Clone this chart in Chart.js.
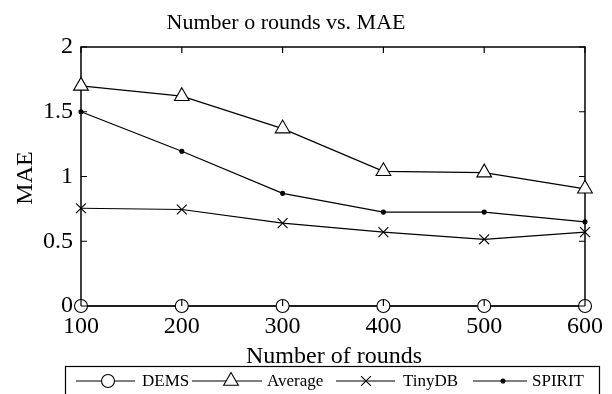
<!DOCTYPE html>
<html>
<head>
<meta charset="utf-8">
<script src="https://cdn.jsdelivr.net/npm/chart.js@4/dist/chart.umd.min.js"></script>
<style>
html,body{margin:0;padding:0;background:#fff;}
#wrap{width:612px;height:394px;position:relative;}
</style>
</head>
<body>
<div id="wrap"><canvas id="c" width="612" height="394"></canvas></div>
<script>
const rounds = ['100','200','300','400','500','600'];
const dems = [0, 0, 0, 0, 0, 0];
const average = [1.70, 1.62, 1.37, 1.04, 1.03, 0.905];
const tinydb = [0.755, 0.745, 0.64, 0.57, 0.515, 0.57];
const spirit = [1.50, 1.195, 0.87, 0.725, 0.725, 0.65];
const seriesNames = ['DEMS', 'Average', 'TinyDB', 'SPIRIT'];
const titleText = 'Number o rounds vs. MAE';
const xTitle = 'Number of rounds';
const yTitle = 'MAE';

const FONT = "'Liberation Serif', 'Times New Roman', serif";

const markers = [
  {style:'circle', r:6.5, fill:'#ffffff'},
  {style:'triangle', r:8.5, fill:'#ffffff'},
  {style:'crossRot', r:7, fill:'#ffffff'},
  {style:'circle', r:2, fill:'#000000'}
];

function ds(label, data, m) {
  return {
    label, data,
    borderColor:'#000', borderWidth:1.2, tension:0,
    pointStyle:m.style, pointRadius:m.r, pointHoverRadius:m.r,
    pointBackgroundColor:m.fill, pointBorderColor:'#000', pointBorderWidth:1.1,
    clip:false
  };
}

function drawMarker(ctx, m, x, y) {
  ctx.save();
  ctx.strokeStyle = '#000'; ctx.fillStyle = m.fill; ctx.lineWidth = 1.1;
  if (Chart.helpers && Chart.helpers.drawPoint) {
    Chart.helpers.drawPoint(ctx, {pointStyle:m.style, radius:m.r, rotation:0, borderWidth:1.1}, x, y);
  }
  ctx.restore();
}

const framePlugin = {
  id:'frame',
  beforeDatasetsDraw(chart) {
    const {ctx, chartArea:a} = chart;
    ctx.save();
    ctx.strokeStyle = '#000'; ctx.lineWidth = 1.5;
    ctx.strokeRect(a.left, a.top, a.right - a.left, a.bottom - a.top);
    ctx.restore();
  },
  afterDatasetsDraw(chart) {
    const {ctx, chartArea:a, scales} = chart;
    const tl = 6;
    ctx.save();
    ctx.strokeStyle = '#000'; ctx.lineWidth = 1.2;
    ctx.beginPath();
    rounds.forEach((r, i) => {
      const x = scales.x.getPixelForValue(i);
      ctx.moveTo(x, a.bottom); ctx.lineTo(x, a.bottom - tl);
      ctx.moveTo(x, a.top); ctx.lineTo(x, a.top + tl);
    });
    scales.y.ticks.forEach(t => {
      const y = scales.y.getPixelForValue(t.value);
      ctx.moveTo(a.left, y); ctx.lineTo(a.left + tl, y);
      ctx.moveTo(a.right, y); ctx.lineTo(a.right - tl, y);
    });
    ctx.stroke();
    ctx.restore();
  },
  afterDraw(chart) {
    const {ctx} = chart;
    ctx.save();
    ctx.fillStyle = '#000';
    // title
    ctx.font = '22px ' + FONT;
    ctx.textAlign = 'center'; ctx.textBaseline = 'alphabetic';
    ctx.fillText(titleText, 286, 28.5);
    // x title
    ctx.font = '24px ' + FONT;
    ctx.fillText(xTitle, 334, 363);
    // y title
    ctx.save();
    ctx.translate(32, 178);
    ctx.rotate(-Math.PI / 2);
    ctx.fillText(yTitle, 0, 0);
    ctx.restore();
    // legend box
    ctx.strokeStyle = '#000'; ctx.lineWidth = 1.2;
    ctx.strokeRect(65.5, 366.5, 534, 40);
    const ly = 381;
    const items = [
      {x0:76, x1:135, mx:108, tx:142},
      {x0:192, x1:262, mx:231, tx:267},
      {x0:336, x1:395, mx:366, tx:403},
      {x0:473, x1:527, mx:503, tx:532}
    ];
    ctx.font = '17px ' + FONT;
    ctx.textAlign = 'left'; ctx.textBaseline = 'middle';
    items.forEach((it, i) => {
      ctx.lineWidth = 1.1;
      ctx.beginPath(); ctx.moveTo(it.x0, ly); ctx.lineTo(it.x1, ly); ctx.stroke();
      drawMarker(ctx, markers[i], it.mx, ly);
      ctx.fillStyle = '#000';
      ctx.fillText(seriesNames[i], it.tx, ly + 1);
    });
    ctx.restore();
  }
};

new Chart(document.getElementById('c'), {
  type:'line',
  data:{
    labels:rounds,
    datasets:[
      ds(seriesNames[0], dems, markers[0]),
      ds(seriesNames[1], average, markers[1]),
      ds(seriesNames[2], tinydb, markers[2]),
      ds(seriesNames[3], spirit, markers[3])
    ]
  },
  options:{
    responsive:false, animation:false, devicePixelRatio:1,
    layout:{padding:{left:0, right:20, top:47, bottom:0}},
    plugins:{legend:{display:false}, title:{display:false}, tooltip:{enabled:false}},
    scales:{
      x:{
        type:'category', offset:false,
        grid:{display:false, drawTicks:false},
        border:{display:false},
        ticks:{color:'#000', font:{family:FONT, size:24, lineHeight:1}, padding:9, maxRotation:0, autoSkip:false},
        afterFit(s){ s.height = 88; }
      },
      y:{
        min:0, max:2,
        grid:{display:false, drawTicks:false},
        border:{display:false},
        ticks:{stepSize:0.5, color:'#000', font:{family:FONT, size:24, lineHeight:1}, padding:8,
          callback:(v) => String(Number(v))},
        afterFit(s){ s.width = 81; }
      }
    }
  },
  plugins:[framePlugin]
});
</script>
</body>
</html>
